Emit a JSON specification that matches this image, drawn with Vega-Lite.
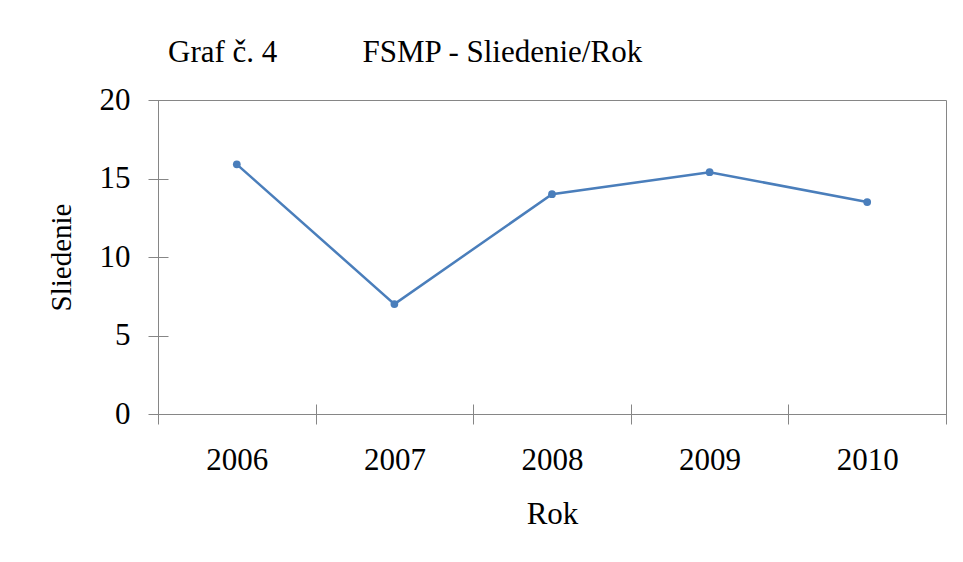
{
  "$schema": "https://vega.github.io/schema/vega-lite/v6.json",
  "width": 788,
  "height": 314,
  "autosize": {"type": "none"},
  "padding": {"left": 158, "top": 100, "right": 17, "bottom": 148},
  "background": "white",
  "title": {
    "text": "Graf č. 4\u00a0\u00a0\u00a0\u00a0\u00a0\u00a0\u00a0\u00a0\u00a0\u00a0 FSMP - Sliedenie/Rok",
    "anchor": "start",
    "frame": "group",
    "dx": 10,
    "offset": -9,
    "baseline": "alphabetic",
    "font": "Liberation Serif",
    "fontSize": 31,
    "fontWeight": "normal",
    "color": "#000000"
  },
  "data": {
    "values": [
      {"Rok": 2006, "Sliedenie": 15.9},
      {"Rok": 2007, "Sliedenie": 7},
      {"Rok": 2008, "Sliedenie": 14},
      {"Rok": 2009, "Sliedenie": 15.4},
      {"Rok": 2010, "Sliedenie": 13.5}
    ]
  },
  "mark": {
    "type": "line",
    "color": "#4A7EBB",
    "strokeWidth": 2.5,
    "point": {"filled": true, "color": "#4A7EBB", "size": 60, "opacity": 1}
  },
  "encoding": {
    "x": {
      "field": "Rok",
      "type": "quantitative",
      "scale": {"domain": [2005.5, 2010.5], "nice": false, "zero": false},
      "axis": {
        "title": "Rok",
        "values": [2005.5, 2006, 2006.5, 2007, 2007.5, 2008, 2008.5, 2009, 2009.5, 2010, 2010.5],
        "labelExpr": "datum.value % 1 === 0 ? format(datum.value, 'd') : ''",
        "tickOpacity": {"condition": {"test": "datum.value % 1 === 0", "value": 0}, "value": 1},
        "offset": -10,
        "tickSize": 20,
        "domain": false,
        "grid": false,
        "labelPadding": 21,
        "labelFlush": false,
        "labelOverlap": false,
        "titlePadding": 24
      }
    },
    "y": {
      "field": "Sliedenie",
      "type": "quantitative",
      "scale": {"domain": [0, 20], "nice": false},
      "axis": {
        "title": "Sliedenie",
        "values": [0, 5, 10, 15, 20],
        "offset": -10,
        "tickSize": 20,
        "domain": false,
        "grid": false,
        "labelPadding": 18,
        "titlePadding": 23,
        "titleFontSize": 29
      }
    }
  },
  "config": {
    "view": {"stroke": "#868686", "strokeWidth": 1},
    "axis": {
      "labelFont": "Liberation Serif",
      "labelFontSize": 31,
      "labelColor": "#000000",
      "titleFont": "Liberation Serif",
      "titleFontSize": 31,
      "titleFontWeight": "normal",
      "titleColor": "#000000",
      "tickColor": "#868686",
      "tickWidth": 1
    }
  }
}
